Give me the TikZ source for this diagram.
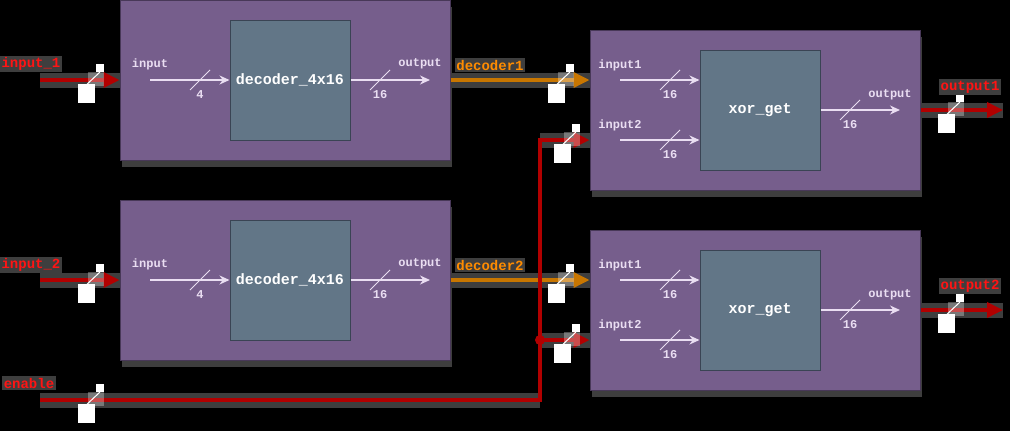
\documentclass[tikz,border=0pt]{standalone}
\usepackage{fontspec}
\newfontfamily\monofont{Liberation Mono}
\usetikzlibrary{arrows.meta,shadows}

\definecolor{blockpurple}{RGB}{118,94,140}
\definecolor{blockedge}{RGB}{72,56,88}
\definecolor{coreslate}{RGB}{98,118,135}
\definecolor{coreedge}{RGB}{58,68,84}
\definecolor{portlav}{RGB}{234,222,242}
\definecolor{wirered}{RGB}{178,0,0}
\definecolor{wireorange}{RGB}{200,118,0}
\definecolor{labelred}{RGB}{255,20,20}
\definecolor{labelorange}{RGB}{255,140,0}
\definecolor{halo}{RGB}{62,62,62}

\tikzset{
  portmark/.pic={\draw[portlav, line width=0.8pt] (-10,10) -- (10,-10);},
  wiremark/.pic={
    \fill[white, opacity=0.3] (-4,-8) rectangle (12,6);
    \fill[white] (-14,4) rectangle (3,23);
    \fill[white] (4,-16) rectangle (12,-8);
    \draw[white, line width=1pt] (-9,8) -- (8,-8);
  }
}

\begin{document}
\begin{tikzpicture}[x=1pt,y=-1pt,
  block/.style={draw=blockedge, line width=1pt, fill=blockpurple, minimum width=330pt, minimum height=160pt, inner sep=0pt,
    drop shadow={shadow xshift=2pt, shadow yshift=-7pt, fill=halo, opacity=1}},
  core/.style={draw=coreedge, line width=1pt, fill=coreslate, minimum width=120pt, minimum height=120pt, inner sep=0pt,
    text=white, font=\monofont\bfseries\fontsize{15}{18}\selectfont},
  portlabel/.style={text=portlav, inner sep=0pt, font=\monofont\bfseries\fontsize{12}{14}\selectfont},
  port/.style={draw=portlav, line width=1.3pt, -{Stealth[length=10pt,width=9pt]}},
  halo/.style={draw=halo, line width=15pt},
  redwire/.style={draw=wirered, line width=3.5pt, -{Triangle[length=16pt,width=15pt]}},
  orangewire/.style={draw=wireorange, line width=3.5pt, -{Triangle[length=16pt,width=15pt]}},
  wirelabel/.style={fill=halo, inner sep=1.5pt, font=\monofont\bfseries\fontsize{14}{16}\selectfont}]

\path[use as bounding box, fill=black] (0,0) rectangle (1010,431);

% decoders
\node[block] (dec1) at (285,80) {};
\node[core] (dec1core) at (290,80) {decoder\_4x16};
\coordinate (dec1in) at (150,80);
\coordinate (dec1out) at (430,80);
\draw[port] (dec1in) -- (dec1core.west);
\draw[port] (dec1core.east) -- (dec1out);
\node[portlabel] (dec1inlbl) at (150,64) {input};
\node[portlabel] (dec1outlbl) at (420,64) {output};
\pic at (200,80) {portmark};
\pic at (380,80) {portmark};
\node[portlabel] (dec1inw) at (200,95) {4};
\node[portlabel] (dec1outw) at (380,95) {16};

\node[block] (dec2) at (285,280) {};
\node[core] (dec2core) at (290,280) {decoder\_4x16};
\coordinate (dec2in) at (150,280);
\coordinate (dec2out) at (430,280);
\draw[port] (dec2in) -- (dec2core.west);
\draw[port] (dec2core.east) -- (dec2out);
\node[portlabel] (dec2inlbl) at (150,264) {input};
\node[portlabel] (dec2outlbl) at (420,264) {output};
\pic at (200,280) {portmark};
\pic at (380,280) {portmark};
\node[portlabel] (dec2inw) at (200,295) {4};
\node[portlabel] (dec2outw) at (380,295) {16};

% xor blocks
\node[block] (xor1) at (755,110) {};
\node[core] (xor1core) at (760,110) {xor\_get};
\coordinate (xor1a) at (620,80);
\coordinate (xor1b) at (620,140);
\coordinate (xor1out) at (900,110);
\draw[port] (xor1a) -- (xor1a -| xor1core.west);
\draw[port] (xor1b) -- (xor1b -| xor1core.west);
\draw[port] (xor1core.east) -- (xor1out);
\node[portlabel] (xor1albl) at (620,65) {input1};
\node[portlabel] (xor1blbl) at (620,125) {input2};
\node[portlabel] (xor1outlbl) at (890,95) {output};
\pic at (670,80) {portmark};
\pic at (670,140) {portmark};
\pic at (850,110) {portmark};
\node[portlabel] (xor1aw) at (670,95) {16};
\node[portlabel] (xor1bw) at (670,155) {16};
\node[portlabel] (xor1outw) at (850,125) {16};

\node[block] (xor2) at (755,310) {};
\node[core] (xor2core) at (760,310) {xor\_get};
\coordinate (xor2a) at (620,280);
\coordinate (xor2b) at (620,340);
\coordinate (xor2out) at (900,310);
\draw[port] (xor2a) -- (xor2a -| xor2core.west);
\draw[port] (xor2b) -- (xor2b -| xor2core.west);
\draw[port] (xor2core.east) -- (xor2out);
\node[portlabel] (xor2albl) at (620,265) {input1};
\node[portlabel] (xor2blbl) at (620,325) {input2};
\node[portlabel] (xor2outlbl) at (890,295) {output};
\pic at (670,280) {portmark};
\pic at (670,340) {portmark};
\pic at (850,310) {portmark};
\node[portlabel] (xor2aw) at (670,295) {16};
\node[portlabel] (xor2bw) at (670,355) {16};
\node[portlabel] (xor2outw) at (850,325) {16};

% outside wires
\coordinate (in1) at (40,80);
\coordinate (in2) at (40,280);
\coordinate (en) at (40,400);
\coordinate (tap) at (540,400);
\coordinate (out1) at (1003,110);
\coordinate (out2) at (1003,310);

\draw[halo] (in1) -- (dec1.west);
\draw[halo] (in2) -- (dec2.west);
\draw[halo] (en) -- (tap);
\draw[halo] (dec1.east) -- (dec1.east -| xor1.west);
\draw[halo] (dec2.east) -- (dec2.east -| xor2.west);
\draw[halo] (tap |- xor1b) -- (xor1b -| xor1.west);
\draw[halo] (tap |- xor2b) -- (xor2b -| xor2.west);
\draw[halo] (xor1.east) -- (out1);
\draw[halo] (xor2.east) -- (out2);

\draw[redwire] (in1) -- (dec1.west);
\draw[redwire] (in2) -- (dec2.west);
\draw[orangewire] (dec1.east) -- (dec1.east -| xor1.west);
\draw[orangewire] (dec2.east) -- (dec2.east -| xor2.west);
\draw[redwire] (en) -- (tap) -- (tap |- xor1b) -- (xor1b -| xor1.west);
\draw[redwire] (tap |- xor2b) -- (xor2b -| xor2.west);
\fill[wirered] (tap |- xor2b) circle (5);
\draw[redwire] (xor1.east) -- (out1);
\draw[redwire] (xor2.east) -- (out2);

\pic at (92,80) {wiremark};
\pic at (92,280) {wiremark};
\pic at (92,400) {wiremark};
\pic at (562,80) {wiremark};
\pic at (562,280) {wiremark};
\pic at (568,140) {wiremark};
\pic at (568,340) {wiremark};
\pic at (952,110) {wiremark};
\pic at (952,310) {wiremark};

\node[wirelabel, text=labelred] (in1lbl) at (31,64) {input\_1};
\node[wirelabel, text=labelred] (in2lbl) at (31,265) {input\_2};
\node[wirelabel, text=labelred] (enlbl) at (29,383) {enable};
\node[wirelabel, text=labelorange] (dec1lbl) at (490,65) {decoder1};
\node[wirelabel, text=labelorange] (dec2lbl) at (490,265) {decoder2};
\node[wirelabel, text=labelred] (out1lbl) at (970,87) {output1};
\node[wirelabel, text=labelred] (out2lbl) at (970,286) {output2};
\end{tikzpicture}
\end{document}
